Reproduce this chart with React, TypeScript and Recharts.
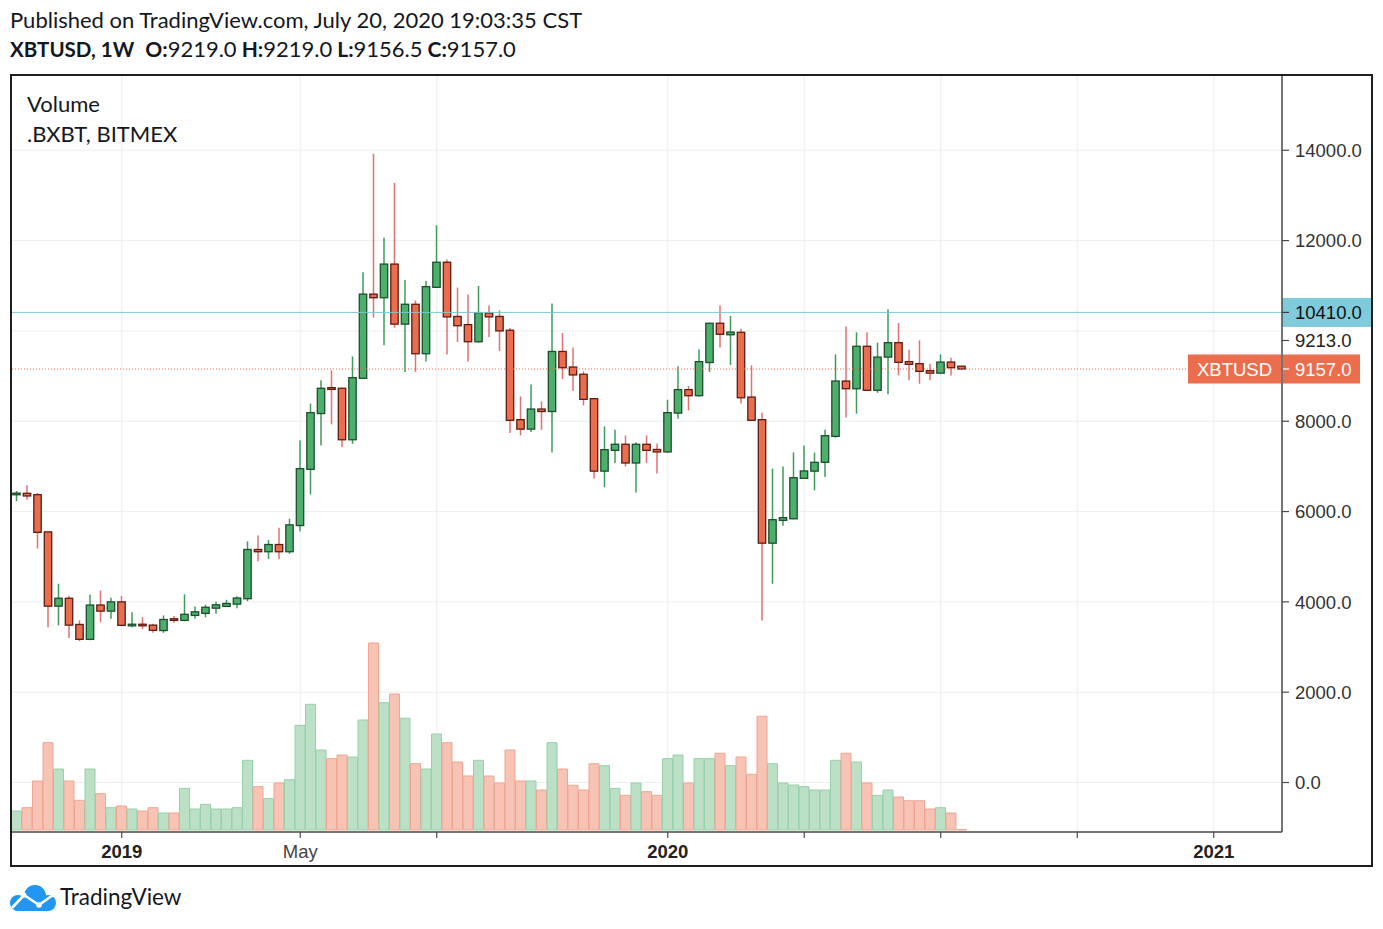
import React from 'react';
import { ComposedChart, Bar, XAxis, YAxis, CartesianGrid, ReferenceLine, Cell } from 'recharts';

// ---- data ----
const START_WEEK_UTC = Date.UTC(2018, 9, 29); // first weekly bar: 2018-10-29
const TOTAL_WEEKS = 121; // slots visible on the time axis (bars + empty future)

const OPEN = [
  6380, 6405, 6375, 5550, 3905, 4080, 3500, 3170, 3930, 3795,
  4000, 3480, 3495, 3485, 3365, 3625, 3590, 3700, 3745, 3860,
  3900, 3950, 4070, 5160, 5110, 5270, 5110, 5690, 6935, 8170,
  8745, 8730, 7590, 8950, 10815, 10735, 11480, 10150, 10590, 9495,
  10965, 11520, 10320, 10140, 9760, 10400, 10320, 10015, 8035, 7825,
  8270, 8215, 9545, 9200, 9040, 8500, 6895, 7355, 7490, 7075,
  7490, 7375, 7320, 8180, 8700, 8565, 9300, 10170, 9915, 9970,
  8535, 8035, 5300, 5805, 5840, 6735, 6895, 7090, 7665, 8890,
  8720, 9660, 8685, 9420, 9740, 9320, 9275, 9120, 9065, 9310,
  9219.0,
];
const HIGH = [
  6455, 6580, 6410, 5560, 4400, 4130, 3590, 4160, 4250, 4090,
  4130, 3770, 3660, 3515, 3700, 3685, 4165, 3900, 3935, 4000,
  4045, 4125, 5340, 5470, 5370, 5640, 5840, 7575, 8390, 8905,
  9125, 8740, 9435, 11300, 13925, 12065, 13275, 11130, 10675, 11105,
  12340, 11580, 10960, 10805, 10995, 10565, 10455, 10065, 8550, 8815,
  8440, 10605, 9955, 9635, 9105, 8520, 7885, 7810, 7685, 7535,
  7685, 7505, 8475, 9215, 8780, 9590, 10180, 10565, 10330, 10050,
  9235, 8190, 6950, 7000, 7310, 7460, 7305, 7810, 9480, 10100,
  9970, 9970, 9740, 10480, 10175, 9585, 9790, 9275, 9480, 9405,
  9219.0,
];
const LOW = [
  6230, 6260, 5180, 3440, 3480, 3200, 3130, 3150, 3550, 3625,
  3470, 3440, 3400, 3315, 3315, 3540, 3570, 3625, 3660, 3735,
  3885, 3860, 4015, 4900, 4950, 4950, 5065, 5565, 6380, 7465,
  7930, 7430, 7500, 8930, 10295, 9680, 10070, 9090, 9090, 9320,
  10950, 9480, 9755, 9325, 9740, 9865, 9555, 7740, 7685, 7760,
  7810, 7305, 8935, 8670, 8350, 6730, 6540, 7075, 7000, 6420,
  7075, 6840, 7300, 8055, 8240, 8550, 9090, 9630, 9245, 8390,
  8010, 3590, 4400, 5685, 5830, 6720, 6470, 6765, 7635, 8080,
  8170, 8670, 8630, 8595, 9015, 8905, 8830, 8905, 9050, 9015,
  9156.5,
];
const CLOSE = [
  6400, 6345, 5540, 3905, 4080, 3485, 3170, 3930, 3795, 4000,
  3480, 3495, 3480, 3370, 3610, 3590, 3725, 3780, 3880, 3935,
  3965, 4085, 5160, 5110, 5270, 5110, 5705, 6950, 8190, 8730,
  8705, 7590, 8965, 10815, 10735, 11480, 10150, 10590, 9495, 10980,
  11520, 10310, 10115, 9760, 10405, 10310, 10000, 8020, 7825, 8270,
  8215, 9545, 9185, 9025, 8485, 6895, 7370, 7490, 7075, 7490,
  7355, 7320, 8190, 8700, 8565, 9320, 10170, 9925, 9975, 8520,
  8020, 5300, 5820, 5865, 6750, 6900, 7090, 7680, 8890, 8720,
  9660, 8685, 9420, 9740, 9305, 9260, 9105, 9065, 9310, 9185,
  9157.0,
];
const VOLUME = [
  190, 223, 490, 873, 610, 490, 297, 610, 363, 223,
  240, 210, 190, 223, 170, 170, 417, 210, 257, 210,
  210, 223, 697, 433, 313, 470, 503, 1047, 1257, 800,
  713, 750, 730, 1100, 1870, 1273, 1360, 1117, 663, 610,
  960, 873, 680, 540, 697, 540, 470, 800, 490, 490,
  400, 873, 610, 447, 400, 663, 643, 417, 347, 470,
  383, 347, 713, 750, 470, 713, 713, 767, 643, 730,
  557, 1137, 663, 470, 450, 433, 400, 400, 697, 767,
  680, 470, 347, 400, 330, 293, 293, 210, 223, 170,
  4,
];

const PRICE_TICKS = [0, 2000, 4000, 6000, 8000, 10000, 12000, 14000];
const HIDDEN_PRICE_TICKS = [10000];
const TIME_TICKS = ['2019-01-07', '2019-05-06', '2019-08-05', '2020-01-06', '2020-04-06', '2020-07-06', '2020-10-05', '2021-01-04'];
const TIME_TICK_LABELS = ['2019', 'May', '', '2020', '', '', '', '2021'];
const BOLD_TIME_LABELS = ['2019', '2020', '2021'];

const SYMBOL = 'XBTUSD';
const LAST_PRICE = 9157.0;
const HLINE_PRICE = 10410.0;
const SHIFTED_LABEL_PRICE = 9213.0;

const PRICE_DOMAIN = [-1096, 15667];
const VOLUME_DOMAIN = [-20, 7550];

// ---- styles ----
const RED_BODY = '#ea6e4d';
const RED_BORDER = '#5e1c12';
const RED_WICK = '#e07272';
const GREEN_BODY = '#4caf6b';
const GREEN_BORDER = '#1e4e2e';
const GREEN_WICK = '#3f9b5c';
const VOL_RED = '#f6c3b5';
const VOL_RED_EDGE = '#f0a592';
const VOL_GREEN = '#bbe0c6';
const VOL_GREEN_EDGE = '#98d0a9';
const AXIS_FONT = '"Liberation Sans", Arial, sans-serif';
const TEXT_FONT = 'Lato, "Noto Sans", sans-serif';

const weeks = Array.from({ length: TOTAL_WEEKS }, (_, i) =>
  new Date(START_WEEK_UTC + i * 7 * 86400000).toISOString().slice(0, 10)
);

const data = weeks.map((date, i) =>
  i < OPEN.length
    ? {
        date,
        open: OPEN[i],
        high: HIGH[i],
        low: LOW[i],
        close: CLOSE[i],
        range: [LOW[i], HIGH[i]],
        volume: VOLUME[i],
      }
    : { date }
);

const Candle = (props: any) => {
  const { x, y, width, height, payload } = props;
  if (!payload || payload.open == null || x == null) return null;
  const { open, high, low, close } = payload;
  const top = Math.min(y, y + height);
  const h = Math.abs(height);
  const ppu = high > low ? h / (high - low) : 0;
  const cx = x + width / 2;
  const yO = top + (high - open) * ppu;
  const yC = top + (high - close) * ppu;
  const up = close >= open;
  let bt = Math.min(yO, yC);
  let bh = Math.abs(yO - yC);
  if (bh < 1.6) {
    bt = (yO + yC) / 2 - 0.8;
    bh = 1.6;
  }
  const bw = 7.4;
  return (
    <g>
      <line x1={cx} x2={cx} y1={top} y2={top + h} stroke={up ? GREEN_WICK : RED_WICK} strokeWidth={1.5} />
      <rect
        x={cx - bw / 2}
        y={bt}
        width={bw}
        height={bh}
        fill={up ? GREEN_BODY : RED_BODY}
        stroke={up ? GREEN_BORDER : RED_BORDER}
        strokeWidth={1.3}
      />
    </g>
  );
};

const PriceTick = (props: any) => {
  const { x, y, payload } = props;
  if (HIDDEN_PRICE_TICKS.includes(payload.value)) return null;
  return (
    <g>
      <line x1={x} x2={x + 7} y1={y} y2={y} stroke="#4a4a4a" strokeWidth={1.2} />
      <text x={x + 13} y={y} dy="0.36em" fontFamily={AXIS_FONT} fontSize={18.5} fill="#333333">
        {Number(payload.value).toFixed(1)}
      </text>
    </g>
  );
};

const TimeTick = (props: any) => {
  const { x, y, payload } = props;
  const idx = TIME_TICKS.indexOf(payload.value);
  const label = idx >= 0 ? TIME_TICK_LABELS[idx] : '';
  if (!label) return null;
  const bold = BOLD_TIME_LABELS.includes(label);
  return (
    <text
      x={x}
      y={y}
      dy={20}
      textAnchor="middle"
      fontFamily={AXIS_FONT}
      fontSize={18.5}
      fontWeight={bold ? 700 : 400}
      fill={bold ? '#222222' : '#444444'}
    >
      {label}
    </text>
  );
};

const HLineLabel = (props: any) => {
  const vb = props.viewBox;
  if (!vb) return null;
  const right = vb.x + vb.width;
  const y = vb.y;
  return (
    <g>
      <rect x={right} y={y - 14.5} width={90} height={29} fill="#7fcbdb" />
      <line x1={right} x2={right + 7} y1={y} y2={y} stroke="#3a3a3a" strokeWidth={1.2} />
      <text x={right + 13} y={y} dy="0.36em" fontFamily={AXIS_FONT} fontSize={18.5} fill="#111111">
        {HLINE_PRICE.toFixed(1)}
      </text>
    </g>
  );
};

const LastPriceLabel = (props: any) => {
  const vb = props.viewBox;
  if (!vb) return null;
  const right = vb.x + vb.width;
  const y = vb.y;
  const shiftedY = y - 28.5;
  return (
    <g>
      <line x1={right} x2={right + 7} y1={shiftedY} y2={shiftedY} stroke="#4a4a4a" strokeWidth={1.2} />
      <text x={right + 13} y={shiftedY} dy="0.36em" fontFamily={AXIS_FONT} fontSize={18.5} fill="#222222">
        {SHIFTED_LABEL_PRICE.toFixed(1)}
      </text>
      <rect x={right - 94} y={y - 14.5} width={93} height={29} fill={RED_BODY} />
      <text x={right - 47.5} y={y} dy="0.36em" textAnchor="middle" fontFamily={AXIS_FONT} fontSize={18.5} fill="#ffffff">
        {SYMBOL}
      </text>
      <rect x={right + 1} y={y - 14.5} width={77} height={29} fill={RED_BODY} />
      <line x1={right + 1} x2={right + 7} y1={y} y2={y} stroke="#ffffff" strokeWidth={1.2} />
      <text x={right + 13} y={y} dy="0.36em" fontFamily={AXIS_FONT} fontSize={18.5} fill="#ffffff">
        {LAST_PRICE.toFixed(1)}
      </text>
    </g>
  );
};

const TradingViewLogo = () => (
  <svg width={60} height={40} style={{ position: 'absolute', left: 0, top: 878 }} viewBox="0 0 60 40">
    <g fill="#2196f3">
      <circle cx={18} cy={25} r={8} />
      <circle cx={35} cy={18} r={11} />
      <circle cx={48} cy={25} r={8} />
      <rect x={14} y={22} width={36} height={11} rx={4} />
    </g>
    <polyline points="12,30 24,17 39,27 53,17" fill="none" stroke="#ffffff" strokeWidth={2.6} strokeLinejoin="round" />
    <circle cx={24} cy={17} r={2.6} fill="#ffffff" />
    <circle cx={39} cy={27} r={2.8} fill="#ffffff" />
  </svg>
);

export default function App() {
  return (
    <div
      style={{
        position: 'absolute',
        left: 0,
        top: 0,
        width: 1383,
        height: 929,
        background: '#ffffff',
        overflow: 'hidden',
      }}
    >
      <div style={{ position: 'absolute', left: 0, top: 0 }}>
        <ComposedChart
          width={1383}
          height={929}
          data={data}
          margin={{ top: 75, right: 11, bottom: 63, left: 11.5 }}
          barCategoryGap={0}
          barGap={0}
        >
          <CartesianGrid xAxisId="main" yAxisId="price" stroke="#eeeeee" strokeWidth={1} />
          <XAxis xAxisId="candles" dataKey="date" type="category" orientation="top" height={0} hide />
          <XAxis
            xAxisId="main"
            dataKey="date"
            type="category"
            ticks={TIME_TICKS}
            interval={0}
            tick={<TimeTick />}
            tickSize={6}
            tickMargin={0}
            height={34}
            axisLine={{ stroke: '#4a4a4a', strokeWidth: 1.5 }}
            tickLine={{ stroke: '#4a4a4a', strokeWidth: 1.2 }}
          />
          <YAxis
            yAxisId="price"
            orientation="right"
            width={90}
            type="number"
            domain={PRICE_DOMAIN}
            allowDataOverflow
            ticks={PRICE_TICKS}
            interval={0}
            tick={<PriceTick />}
            tickSize={0}
            tickMargin={0}
            tickLine={false}
            axisLine={{ stroke: '#4a4a4a', strokeWidth: 1.5 }}
          />
          <YAxis yAxisId="vol" type="number" domain={VOLUME_DOMAIN} allowDataOverflow hide width={0} />
          <Bar
            xAxisId="main"
            yAxisId="vol"
            dataKey="volume"
            barSize={10}
            isAnimationActive={false}
          >
            {data.map((d: any, i) => {
              const up = d.close != null && d.close >= d.open;
              return (
                <Cell
                  key={`v-${i}`}
                  fill={up ? VOL_GREEN : VOL_RED}
                  stroke={up ? VOL_GREEN_EDGE : VOL_RED_EDGE}
                  strokeWidth={1}
                />
              );
            })}
          </Bar>
          <ReferenceLine
            xAxisId="main"
            yAxisId="price"
            y={HLINE_PRICE}
            stroke="#7fc4d1"
            strokeWidth={1}
            label={(p: any) => <HLineLabel {...p} />}
          />
          <ReferenceLine
            xAxisId="main"
            yAxisId="price"
            y={LAST_PRICE}
            stroke={RED_BODY}
            strokeWidth={1}
            strokeDasharray="1 2"
            label={(p: any) => <LastPriceLabel {...p} />}
          />
          <Bar
            xAxisId="candles"
            yAxisId="price"
            dataKey="range"
            barSize={8}
            shape={<Candle />}
            isAnimationActive={false}
          />
        </ComposedChart>
      </div>

      {/* header, legend and frame */}
      <svg width={1383} height={929} style={{ position: 'absolute', left: 0, top: 0, pointerEvents: 'none' }}>
        <text x={10} y={28} fontFamily={TEXT_FONT} fontSize={22} fill="#131722">
          Published on TradingView.com, July 20, 2020 19:03:35 CST
        </text>
        <text x={10} y={57} fontFamily={TEXT_FONT} fontSize={22} fill="#131722">
          <tspan fontWeight={700} fontSize={20.5}>XBTUSD, 1W</tspan>
          <tspan dx={11} fontWeight={700} fontSize={21}>O:</tspan>
          <tspan>9219.0</tspan>
          <tspan dx={5} fontWeight={700} fontSize={21}>H:</tspan>
          <tspan>9219.0</tspan>
          <tspan dx={5} fontWeight={700} fontSize={21}>L:</tspan>
          <tspan>9156.5</tspan>
          <tspan dx={5} fontWeight={700} fontSize={21}>C:</tspan>
          <tspan>9157.0</tspan>
        </text>
        <text x={27} y={112} fontFamily={TEXT_FONT} fontSize={22} fill="#131722">
          Volume
        </text>
        <text x={27} y={142} fontFamily={TEXT_FONT} fontSize={22} fill="#131722">
          .BXBT, BITMEX
        </text>
        <rect x={11} y={75} width={1361} height={791} fill="none" stroke="#1e1e1e" strokeWidth={2} />
        <text x={60} y={905} fontFamily={TEXT_FONT} fontSize={22.5} fill="#131722">
          TradingView
        </text>
      </svg>
      <TradingViewLogo />
    </div>
  );
}
